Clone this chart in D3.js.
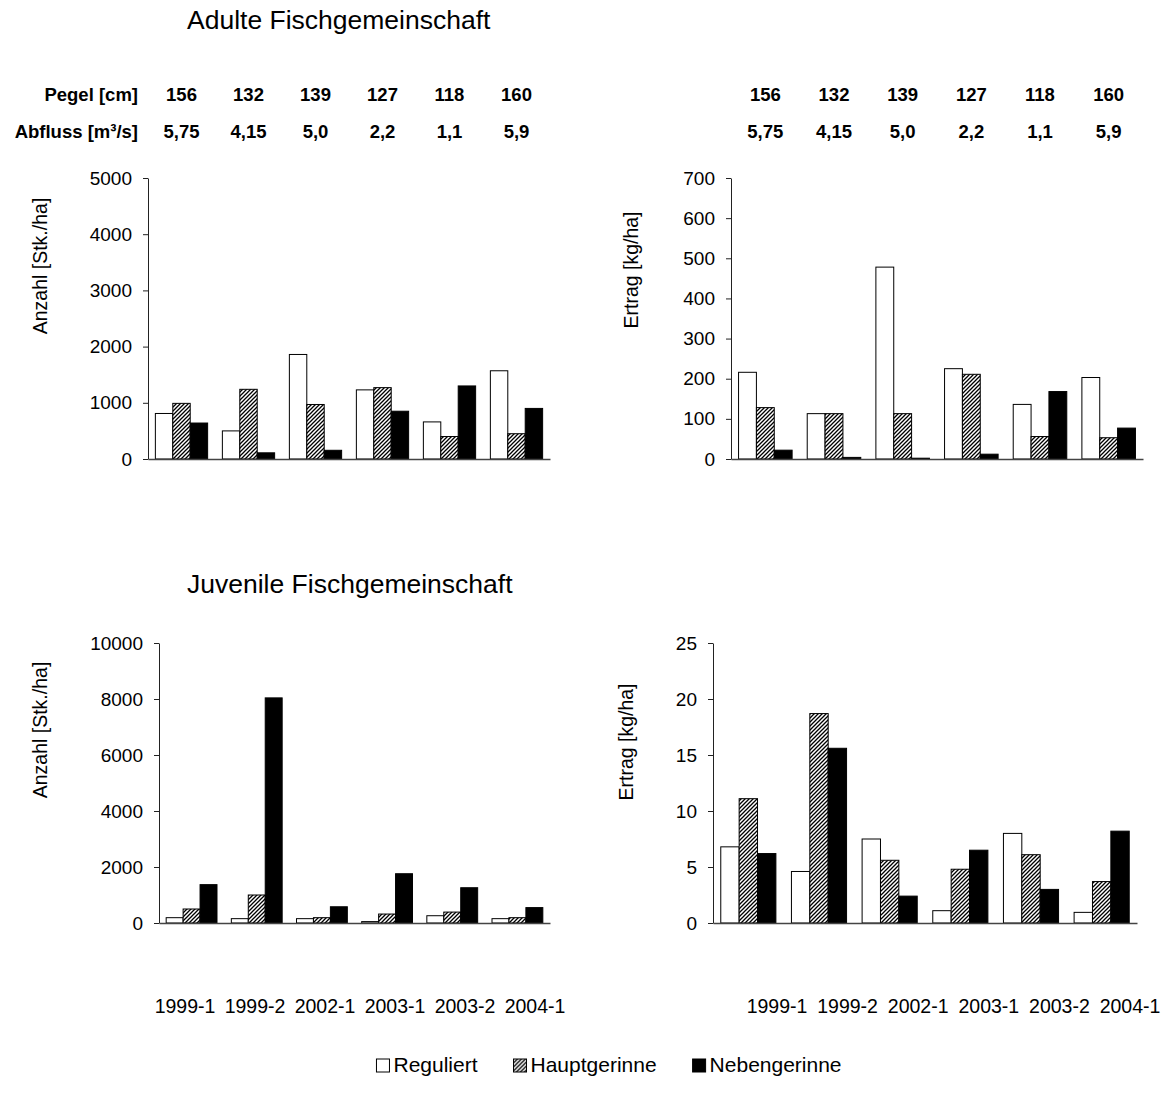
<!DOCTYPE html>
<html>
<head>
<meta charset="utf-8">
<script src="https://cdn.jsdelivr.net/npm/d3@7"></script>
<style>
  body { margin: 0; background: #fff; }
  svg { display: block; font-family: Arial, 'Liberation Sans', sans-serif; }
</style>
</head>
<body>
<svg id="chart" width="1165" height="1107"></svg>
<script>
// Kategorien und Kopfzeilen
const periods = ['1999-1', '1999-2', '2002-1', '2003-1', '2003-2', '2004-1']
const pegel = ['156', '132', '139', '127', '118', '160']
const abfluss = ['5,75', '4,15', '5,0', '2,2', '1,1', '5,9']
const seriesNames = ['Reguliert', 'Hauptgerinne', 'Nebengerinne']

// Adulte: Anzahl [Stk./ha]
const adultCountReg = [810, 500, 1860, 1230, 660, 1570]
const adultCountHaupt = [990, 1240, 970, 1270, 400, 450]
const adultCountNeben = [640, 110, 155, 850, 1300, 900]
// Adulte: Ertrag [kg/ha]
const adultYieldReg = [216, 113, 478, 225, 136, 203]
const adultYieldHaupt = [128, 113, 113, 211, 56, 53]
const adultYieldNeben = [22, 4, 2, 12, 168, 77]
// Juvenile: Anzahl [Stk./ha]
const juvCountReg = [190, 155, 155, 50, 260, 155]
const juvCountHaupt = [500, 1000, 190, 320, 390, 190]
const juvCountNeben = [1370, 8040, 580, 1760, 1260, 550]
// Juvenile: Ertrag [kg/ha]
const juvYieldReg = [6.8, 4.6, 7.5, 1.1, 8.0, 0.95]
const juvYieldHaupt = [11.1, 18.7, 5.6, 4.8, 6.1, 3.7]
const juvYieldNeben = [6.2, 15.6, 2.4, 6.5, 3.0, 8.2]

// Achsenbeschriftung
const countTicksAdult = [0, 1000, 2000, 3000, 4000, 5000]
const yieldTicksAdult = [0, 100, 200, 300, 400, 500, 600, 700]
const countTicksJuv = [0, 2000, 4000, 6000, 8000, 10000]
const yieldTicksJuv = [0, 5, 10, 15, 20, 25]

const svg = d3.select('#chart')

// Schraffur
const defs = svg.append('defs')
const pat = defs.append('pattern')
  .attr('id', 'hatch')
  .attr('patternUnits', 'userSpaceOnUse')
  .attr('width', 4).attr('height', 4)
pat.append('rect').attr('width', 4).attr('height', 4).attr('fill', '#fff')
pat.append('path')
  .attr('d', 'M-1,1 l2,-2 M0,4 l4,-4 M3,5 l2,-2')
  .attr('stroke', '#000').attr('stroke-width', 1.3)

const fills = ['#fff', 'url(#hatch)', '#000']

const panels = [
  { series: [adultCountReg, adultCountHaupt, adultCountNeben], ticks: countTicksAdult, label: 'Anzahl [Stk./ha]', x0: 148, x1: 550, y0: 459, y1: 178, lx: 40, ly: 266 },
  { series: [adultYieldReg, adultYieldHaupt, adultYieldNeben], ticks: yieldTicksAdult, label: 'Ertrag [kg/ha]', x0: 731, x1: 1143, y0: 459, y1: 178, lx: 631, ly: 270 },
  { series: [juvCountReg, juvCountHaupt, juvCountNeben], ticks: countTicksJuv, label: 'Anzahl [Stk./ha]', x0: 159, x1: 550, y0: 923, y1: 643, lx: 40, ly: 730 },
  { series: [juvYieldReg, juvYieldHaupt, juvYieldNeben], ticks: yieldTicksJuv, label: 'Ertrag [kg/ha]', x0: 713, x1: 1137, y0: 923, y1: 643, lx: 626, ly: 742 }
]

panels.forEach(p => {
  const x = d3.scaleBand().domain(periods).range([p.x0, p.x1])
    .paddingInner(0.22).paddingOuter(0.11)
  const xs = d3.scaleBand().domain(d3.range(3)).range([0, x.bandwidth()])
  const y = d3.scaleLinear().domain([0, d3.max(p.ticks)]).range([p.y0, p.y1])
  p.x = x

  const g = svg.append('g')
  periods.forEach((period, i) => {
    p.series.forEach((vals, s) => {
      g.append('rect')
        .attr('x', x(period) + xs(s))
        .attr('y', y(vals[i]))
        .attr('width', xs.bandwidth())
        .attr('height', p.y0 - y(vals[i]))
        .attr('fill', fills[s])
        .attr('stroke', '#000')
        .attr('stroke-width', 1)
    })
  })

  const ya = svg.append('g')
    .attr('transform', `translate(${p.x0},0)`)
    .call(d3.axisLeft(y).tickValues(p.ticks).tickFormat(d3.format('d'))
      .tickSize(5).tickSizeOuter(0).tickPadding(11))
  ya.selectAll('text').style('font-size', '19px').attr('fill', '#000')
  ya.selectAll('line, path').attr('stroke', '#222')

  const xa = svg.append('g')
    .attr('transform', `translate(0,${p.y0})`)
    .call(d3.axisBottom(x).tickValues([]).tickSizeOuter(0))
  xa.select('path').attr('stroke', '#444').attr('stroke-width', 1.3)

  svg.append('text')
    .attr('transform', `translate(${p.lx},${p.ly}) rotate(-90)`)
    .attr('text-anchor', 'middle')
    .attr('dy', '0.35em')
    .style('font-size', '19.5px')
    .text(p.label)
})

// Titel
svg.append('text').attr('x', 187).attr('y', 29)
  .style('font-size', '26.5px').text('Adulte Fischgemeinschaft')
svg.append('text').attr('x', 187).attr('y', 593)
  .style('font-size', '26.5px').text('Juvenile Fischgemeinschaft')

// Kopfzeilen Pegel / Abfluss
const headRows = [
  { name: 'Pegel [cm]', vals: pegel, y: 101 },
  { name: 'Abfluss [m³/s]', vals: abfluss, y: 138 }
]
headRows.forEach(r => {
  svg.append('text').attr('x', 138).attr('y', r.y)
    .attr('text-anchor', 'end')
    .style('font-size', '18.5px').style('font-weight', 'bold')
    .text(r.name)
  ;[panels[0], panels[1]].forEach(p => {
    svg.selectAll(null).data(periods).enter().append('text')
      .attr('x', d => p.x(d) + p.x.bandwidth() / 2)
      .attr('y', r.y)
      .attr('text-anchor', 'middle')
      .style('font-size', '18.5px').style('font-weight', 'bold')
      .text((d, i) => r.vals[i])
  })
})

// Zeitraum-Beschriftung unten
const lblLeft = d3.scalePoint().domain(periods).range([185, 535])
const lblRight = d3.scalePoint().domain(periods).range([777, 1130])
;[lblLeft, lblRight].forEach(sc => {
  svg.selectAll(null).data(periods).enter().append('text')
    .attr('x', d => sc(d))
    .attr('y', 1013)
    .attr('text-anchor', 'middle')
    .style('font-size', '19.5px')
    .text(d => d)
})

// Legende, zentriert
const leg = svg.append('g')
const legGap = 36
let lx = 0
seriesNames.forEach((name, s) => {
  leg.append('rect')
    .attr('x', lx).attr('y', 1059)
    .attr('width', 13).attr('height', 13)
    .attr('fill', fills[s]).attr('stroke', '#000').attr('stroke-width', 1)
  const t = leg.append('text')
    .attr('x', lx + 17).attr('y', 1072)
    .style('font-size', '21px')
    .text(name)
  lx += 17 + t.node().getComputedTextLength() + legGap
})
lx -= legGap
leg.attr('transform', `translate(${609 - lx / 2},0)`)
</script>
</body>
</html>
